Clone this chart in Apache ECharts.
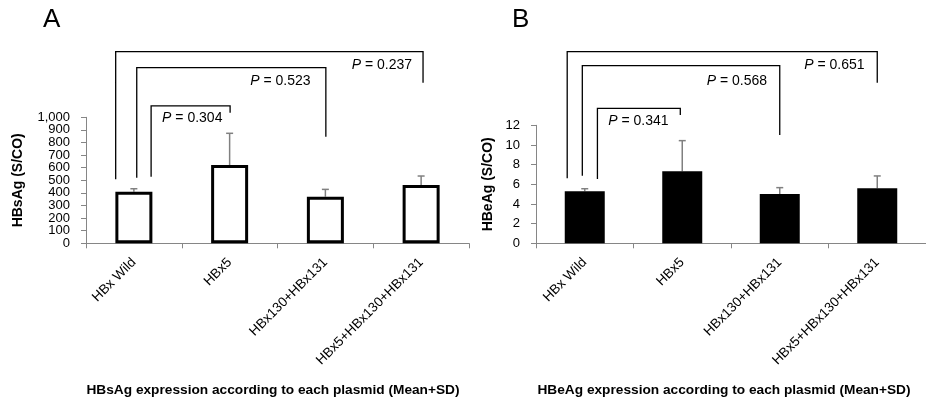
<!DOCTYPE html>
<html>
<head>
<meta charset="utf-8">
<script src="https://cdn.jsdelivr.net/npm/echarts@6/dist/echarts.min.js"></script>
<style>html,body{margin:0;padding:0;background:#fff}#c{width:926px;height:400px}</style>
</head>
<body>
<div id="c"></div>
<script>
// ---- data ----
const categories = ['HBx Wild', 'HBx5', 'HBx130+HBx131', 'HBx5+HBx130+HBx131'];
const hbsagMean = [410, 621, 370, 463];
const hbsagUpper = [433, 873, 428, 534];      // mean + SD
const hbeagMean = [5.29, 7.32, 5.01, 5.59];
const hbeagUpper = [5.55, 10.44, 5.66, 6.85]; // mean + SD
const comparePairs = [[0, 1], [0, 2], [0, 3]];
const pValuesA = ['0.304', '0.523', '0.237'];
const pValuesB = ['0.341', '0.568', '0.651'];
const yTicksA = { min: 0, max: 1000, interval: 100 };
const yTicksB = { min: 0, max: 12, interval: 2 };
const yTickLabelsA = [0, 100, 200, 300, 400, 500, 600, 700, 800, 900, 1000];
const panelA = 'A', panelB = 'B';
const yNameA = 'HBsAg (S/CO)', yNameB = 'HBeAg (S/CO)';
const xTitleA = 'HBsAg expression according to each plasmid (Mean+SD)';
const xTitleB = 'HBeAg expression according to each plasmid (Mean+SD)';

// bracket geometry (value units) : from-offset, to-offset, top, left-leg bottom, right-leg bottom, label offset, label value
const bracketGeomA = [
  { fo: 0.18, to: 0.005, top: 1090, lb: 529, rb: 1037, lo: 0.61, lv: 994 },
  { fo: 0.03, to: 0.005, top: 1394, lb: 521, rb: 846, lo: 0.53, lv: 1288 },
  { fo: -0.19, to: 0.02, top: 1521, lb: 508, rb: 1275, lo: 0.59, lv: 1415 }
];
const bracketGeomB = [
  { fo: 0.13, to: -0.02, top: 13.73, lb: 6.54, rb: 13.05, lo: 0.55, lv: 12.44 },
  { fo: -0.025, to: 0.0, top: 18.06, lb: 6.87, rb: 11.01, lo: 0.56, lv: 16.5 },
  { fo: -0.18, to: 0.0, top: 19.49, lb: 6.61, rb: 16.33, lo: 0.56, lv: 18.13 }
];

const FONT = 'Liberation Sans, Arial, sans-serif';
const AXIS_GREY = '#868686';

function errorSeries(idx, mean, upper) {
  return {
    type: 'custom', xAxisIndex: idx, yAxisIndex: idx, clip: false, z: 1,
    data: categories.map((c, i) => [i, mean[i], upper[i]]),
    encode: { x: 0, y: [1, 2] },
    renderItem: function (params, api) {
      const p0 = api.coord([api.value(0), api.value(1)]);
      const p1 = api.coord([api.value(0), api.value(2)]);
      const style = { stroke: '#808080', lineWidth: 1.5 };
      return {
        type: 'group', children: [
          { type: 'line', shape: { x1: p0[0], y1: p0[1], x2: p1[0], y2: p1[1] }, style },
          { type: 'line', shape: { x1: p1[0] - 3.5, y1: p1[1], x2: p1[0] + 3.5, y2: p1[1] }, style }
        ]
      };
    }
  };
}

function bracketSeries(idx, geom, pvals) {
  return {
    type: 'custom', xAxisIndex: idx, yAxisIndex: idx, clip: false, z: 3,
    data: comparePairs.map((p, i) => [p[0], 0, p[1], i]),
    encode: { x: 0, y: 1 },
    renderItem: function (params, api) {
      const i = api.value(3);
      const g = geom[i];
      const a = api.value(0), b = api.value(2);
      const bw = api.size([1, 0])[0];
      const L = api.coord([a, g.lb]), LT = api.coord([a, g.top]);
      const R = api.coord([b, g.rb]), RT = api.coord([b, g.top]);
      const lx = L[0] + g.fo * bw, rx = R[0] + g.to * bw;
      const lab = api.coord([b - 1, g.lv]);
      return {
        type: 'group', children: [
          { type: 'polyline', shape: { points: [[lx, L[1]], [lx, LT[1]], [rx, RT[1]], [rx, R[1]]] },
            style: { stroke: '#000', lineWidth: 1.3, fill: null } },
          { type: 'text', x: lab[0] + g.lo * bw, y: lab[1],
            style: { text: '{i|P} = ' + pvals[i], align: 'center', verticalAlign: 'middle',
              font: '14px ' + FONT, fill: '#000',
              rich: { i: { fontStyle: 'italic', fontSize: 14, fontFamily: FONT, fill: '#000' } } } }
        ]
      };
    }
  };
}

// y tick labels for panel A drawn through the axis scale (tightly packed, so the axis would skip some)
function tickLabelSeries(idx, ticks) {
  return {
    type: 'custom', xAxisIndex: idx, yAxisIndex: idx, clip: false, z: 3, silent: true,
    data: ticks.map(v => [0, v]),
    encode: { x: 0, y: 1 },
    renderItem: function (params, api) {
      const p = api.coord([0, api.value(1)]);
      return { type: 'text', x: params.coordSys.x - 16, y: p[1],
        style: { text: api.value(1).toLocaleString('en-US'), align: 'right', verticalAlign: 'middle',
          font: '13px ' + FONT, fill: '#000' } };
    }
  };
}

function xAxis(idx) {
  return {
    type: 'category', gridIndex: idx, data: categories,
    axisLine: { lineStyle: { color: AXIS_GREY, width: 1 } },
    axisTick: { show: true, length: 5, lineStyle: { color: AXIS_GREY } },
    axisLabel: { rotate: 45, margin: 17, interval: 0, fontSize: 13.5, fontFamily: FONT, color: '#000' }
  };
}
function yAxis(idx, t, name, gap, showLabels) {
  return {
    type: 'value', gridIndex: idx, min: t.min, max: t.max, interval: t.interval,
    name: name, nameLocation: 'middle', nameGap: gap, nameRotate: 90,
    nameTextStyle: { fontSize: 14, fontWeight: 'bold', fontFamily: FONT, color: '#000' },
    axisLine: { show: true, lineStyle: { color: AXIS_GREY } },
    axisTick: { show: true, length: 5, lineStyle: { color: AXIS_GREY } },
    splitLine: { show: false },
    axisLabel: { show: showLabels, fontSize: 13, fontFamily: FONT, color: '#000', margin: 16,
      showMinLabel: true, showMaxLabel: true }
  };
}

const chart = echarts.init(document.getElementById('c'), null, { renderer: 'canvas' });
chart.setOption({
  animation: false,
  backgroundColor: '#fff',
  grid: [
    { left: 86, right: 457, top: 117.3, bottom: 156.7, containLabel: false },
    { left: 536, right: -16, top: 125.3, bottom: 156.7, containLabel: false }
  ],
  xAxis: [xAxis(0), xAxis(1)],
  yAxis: [
    yAxis(0, yTicksA, yNameA, 61, false),
    yAxis(1, yTicksB, yNameB, 41, true)
  ],
  graphic: [
    { type: 'text', x: 43, y: 19.5, style: { text: panelA, font: '26px ' + FONT, fill: '#000', verticalAlign: 'middle' } },
    { type: 'text', x: 512, y: 19.5, style: { text: panelB, font: '26px ' + FONT, fill: '#000', verticalAlign: 'middle' } },
    { type: 'text', x: 273, y: 390, style: { text: xTitleA, font: 'bold 13.7px ' + FONT, fill: '#000', align: 'center', verticalAlign: 'middle' } },
    { type: 'text', x: 724, y: 390, style: { text: xTitleB, font: 'bold 13.7px ' + FONT, fill: '#000', align: 'center', verticalAlign: 'middle' } }
  ],
  series: [
    { type: 'bar', xAxisIndex: 0, yAxisIndex: 0, data: hbsagMean, barWidth: 37, z: 2,
      itemStyle: { color: '#fff', borderColor: '#000', borderWidth: 3 } },
    { type: 'bar', xAxisIndex: 1, yAxisIndex: 1, data: hbeagMean, barWidth: 40, z: 2,
      itemStyle: { color: '#000' } },
    errorSeries(0, hbsagMean, hbsagUpper),
    errorSeries(1, hbeagMean, hbeagUpper),
    bracketSeries(0, bracketGeomA, pValuesA),
    bracketSeries(1, bracketGeomB, pValuesB),
    tickLabelSeries(0, yTickLabelsA)
  ]
});
</script>
</body>
</html>
